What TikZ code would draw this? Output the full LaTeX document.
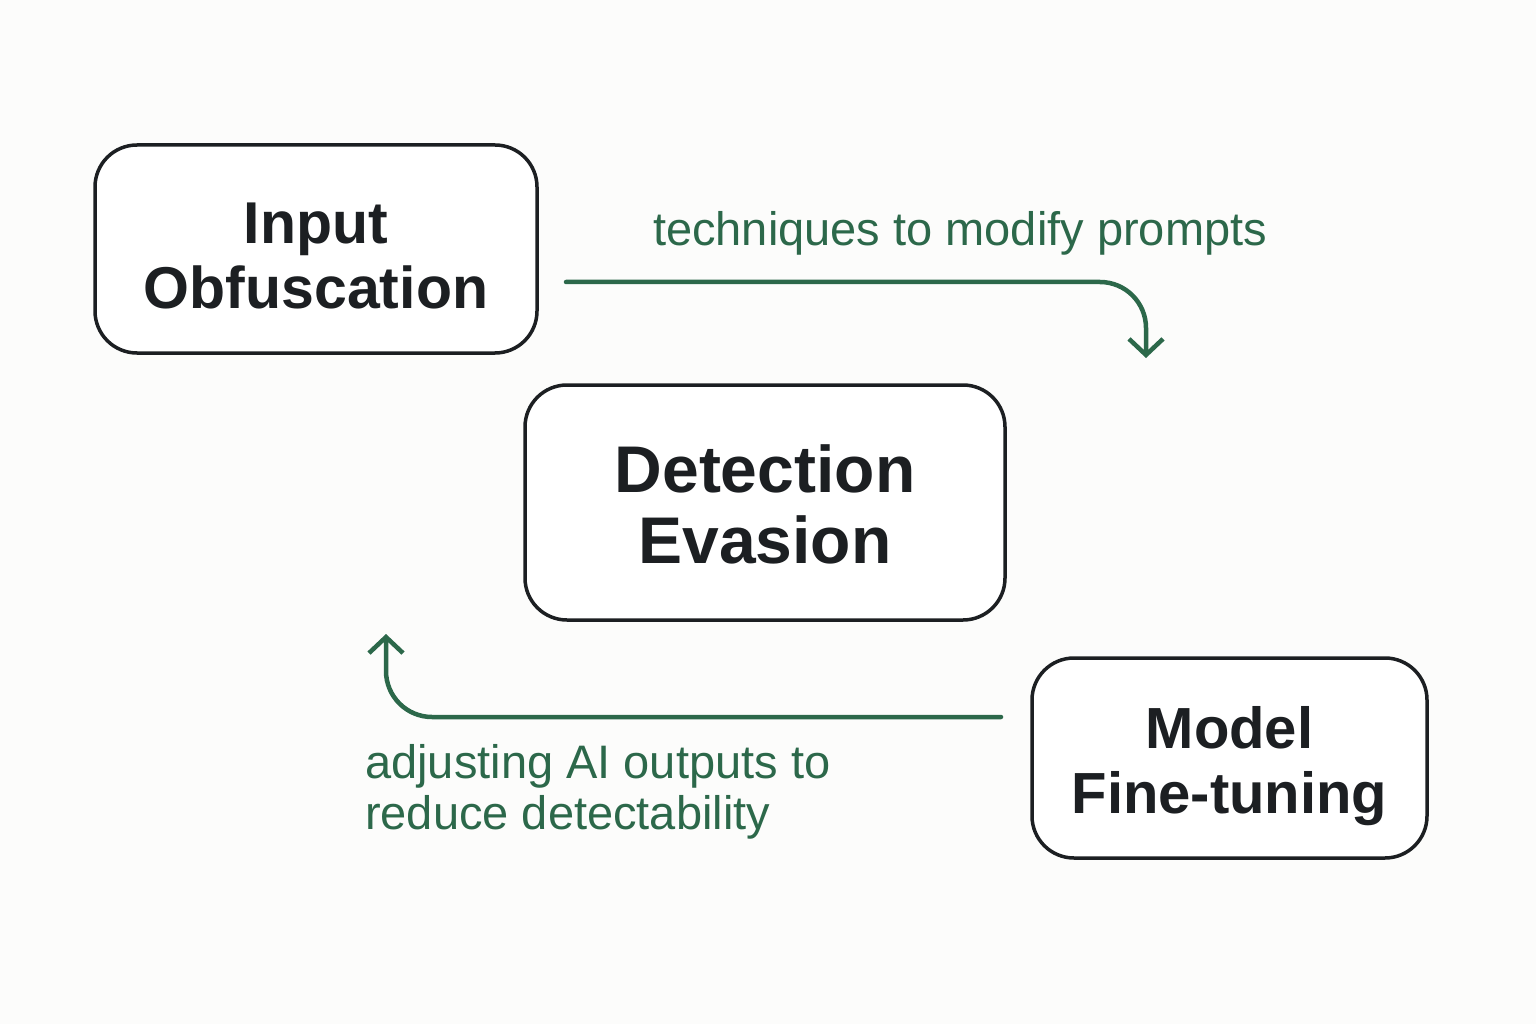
\documentclass[tikz,border=0pt]{standalone}
\usepackage{fontspec}
\setmainfont{Liberation Sans}
\usetikzlibrary{arrows.meta}
\definecolor{ink}{RGB}{28,31,34}
\definecolor{grn}{RGB}{44,104,74}
\definecolor{bg}{RGB}{252,252,251}
\begin{document}
\begin{tikzpicture}[x=1pt,y=-1pt,
  box/.style={draw=ink, line width=3.5pt, rounded corners=42pt, fill=white,
    align=center, text=ink, inner sep=0pt},
  flow/.style={draw=grn, line width=4.5pt, line cap=round, line join=round,
    rounded corners=46pt,
    -{Straight Barb[length=16pt,width=34pt]}},
  lbl/.style={text=grn, font=\fontsize{47}{51}\selectfont, inner sep=0pt}]
\fill[bg] (0,0) rectangle (1536,1024);
\useasboundingbox (0,0) rectangle (1536,1024);

\node[box, minimum width=442pt, minimum height=208pt,
  font=\bfseries\fontsize{59}{65}\selectfont] (inp) at (316,249) {\rule{0pt}{55pt}Input\\Obfuscation};
\node[box, minimum width=480pt, minimum height=235pt,
  font=\bfseries\fontsize{66}{71}\selectfont] (det) at (765,502.5) {\rule{0pt}{52pt}Detection\\Evasion};
\node[box, minimum width=395pt, minimum height=200pt,
  font=\bfseries\fontsize{58}{65}\selectfont] (mod) at (1229.5,758) {\rule{0pt}{58pt}Model\\Fine-tuning};

\coordinate (a1s) at (566,282);
\coordinate (a1e) at (1146,358);
\coordinate (a2s) at (1001,717);
\coordinate (a2e) at (386,634);

\draw[flow] (a1s) -- (a1e |- a1s) -- (a1e);
\draw[flow] (a2s) -- (a2e |- a2s) -- (a2e);

\node[lbl, anchor=base] (l1) at (960,246) {techniques to modify prompts};
\node[lbl, anchor=north west, align=left] (l2) at (365,744.5) {adjusting AI outputs to\\reduce detectability};
\end{tikzpicture}
\end{document}
